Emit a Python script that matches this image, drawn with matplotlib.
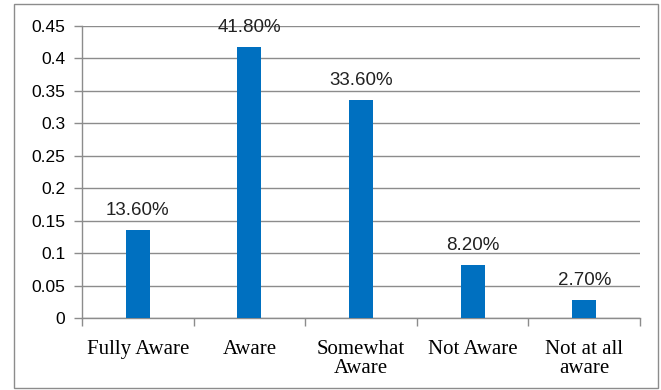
import matplotlib
matplotlib.use('Agg')
import matplotlib.pyplot as plt
from matplotlib.patches import Rectangle
from matplotlib.ticker import MultipleLocator, FixedLocator

# awareness levels and share of respondents
categories = ["Fully Aware", "Aware", "Somewhat\nAware", "Not Aware", "Not at all\naware"]
shares = [0.136, 0.418, 0.336, 0.082, 0.027]
pct_labels = ["13.60%", "41.80%", "33.60%", "8.20%", "2.70%"]
y_ticks = [0, 0.05, 0.1, 0.15, 0.2, 0.25, 0.3, 0.35, 0.4, 0.45]
y_tick_labels = ["0", "0.05", "0.1", "0.15", "0.2", "0.25", "0.3", "0.35", "0.4", "0.45"]

BAR_COLOR = "#0070C0"
GRID_COLOR = "#8c8c8c"

fig = plt.figure(figsize=(6.61, 3.90), dpi=100)
ax = fig.add_axes([82 / 661, 1 - 318 / 390, (640 - 82) / 661, (318 - 26) / 390])

x = list(range(len(categories)))
ax.bar(x, shares, width=0.215, color=BAR_COLOR, zorder=3)

for xi, v, lab in zip(x, shares, pct_labels):
    ax.annotate(lab, (xi, v), xytext=(0, 8), textcoords='offset points',
                ha='center', va='bottom', fontsize=13.5,
                family='Liberation Sans', color='#222222', zorder=4)

ax.set_xlim(-0.5, len(categories) - 0.5)
ax.set_ylim(0, 0.45)
ax.set_yticks(y_ticks)
ax.set_yticklabels(y_tick_labels, family='Liberation Sans', fontsize=12.5)

# category names centred, ticks on the category boundaries
ax.xaxis.set_major_locator(FixedLocator([i - 0.5 for i in range(len(categories) + 1)]))
ax.xaxis.set_major_formatter(plt.NullFormatter())
ax.xaxis.set_minor_locator(FixedLocator(x))
ax.set_xticklabels(categories, minor=True, family='Liberation Serif',
                   fontsize=15, linespacing=1.0, va='top')
ax.tick_params(axis='x', which='minor', length=0, pad=16)
ax.tick_params(axis='x', which='major', length=6, color=GRID_COLOR, width=1)
ax.tick_params(axis='y', length=6, color=GRID_COLOR, width=1, pad=6)

ax.grid(axis='y', color=GRID_COLOR, linewidth=1, zorder=0)
for side in ('top', 'right'):
    ax.spines[side].set_visible(False)
for side in ('left', 'bottom'):
    ax.spines[side].set_color(GRID_COLOR)
    ax.spines[side].set_linewidth(1)

# outer chart frame
fig.patches.append(Rectangle((14 / 661, 2 / 390), (658 - 14) / 661, (386 - 2) / 390,
                             transform=fig.transFigure, fill=False,
                             edgecolor='#8c8c8c', linewidth=1))

fig.savefig('out.png', dpi=100)
